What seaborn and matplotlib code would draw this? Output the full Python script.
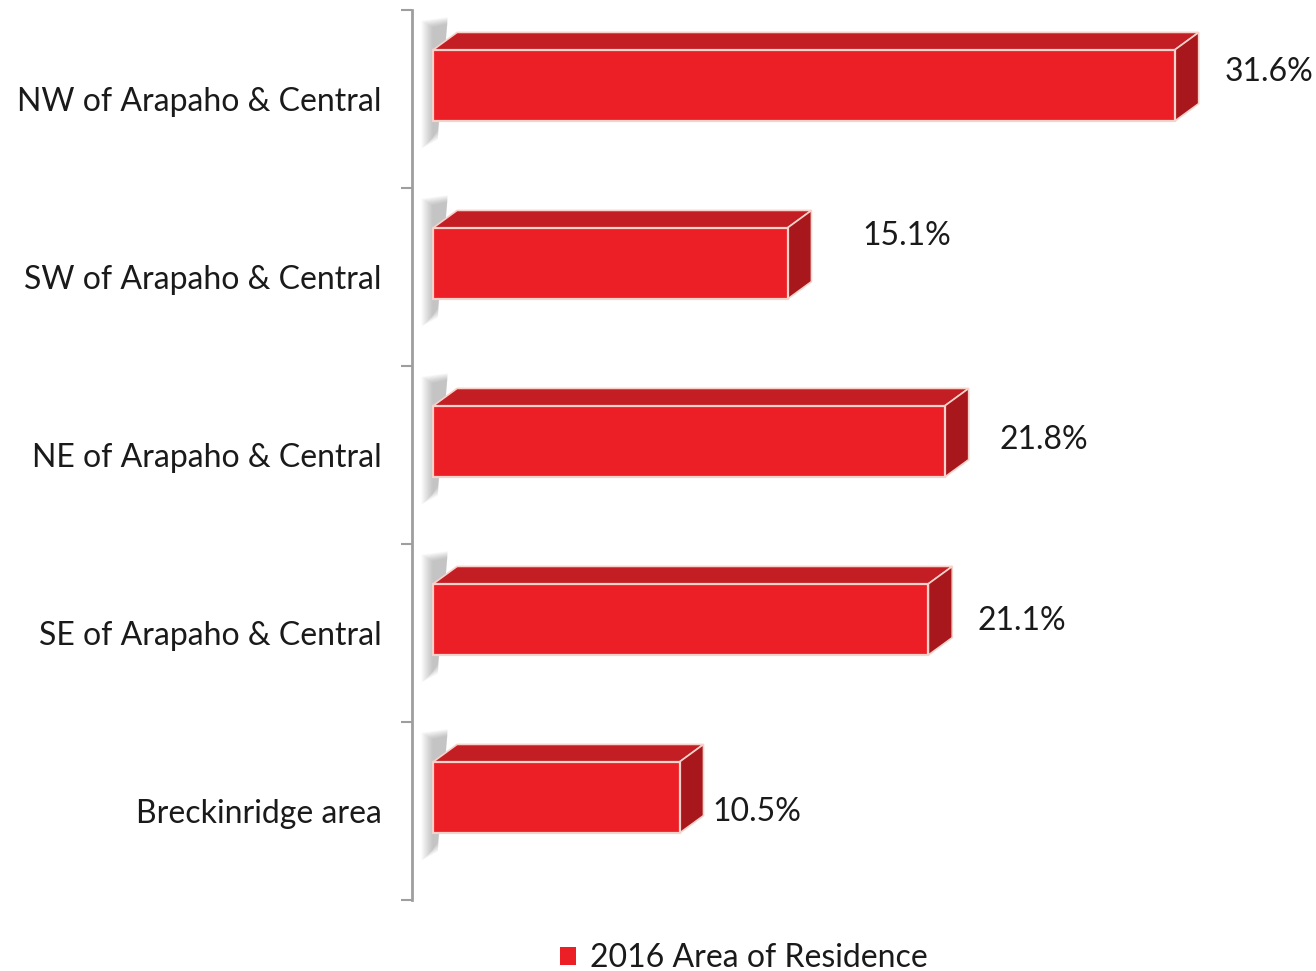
import matplotlib

matplotlib.use("Agg")
import matplotlib.pyplot as plt
import numpy as np
import seaborn as sns
from matplotlib.patches import Patch, Polygon

# Data
CATEGORIES = [
    "NW of Arapaho & Central",
    "SW of Arapaho & Central",
    "NE of Arapaho & Central",
    "SE of Arapaho & Central",
    "Breckinridge area",
]
VALUES = [31.6, 15.1, 21.8, 21.1, 10.5]
VALUE_LABELS = ["31.6%", "15.1%", "21.8%", "21.1%", "10.5%"]
SERIES_NAME = "2016 Area of Residence"

# Style settings
FRONT_COLOR = "#EC1F26"
TOP_COLOR = "#C21E24"
SIDE_COLOR = "#A8171C"
EDGE_COLOR = "#F7D2CB"
AXIS_COLOR = "#9E9E9E"
TEXT_COLOR = "#1A1A1A"
FONT_SIZE = 23
BAR_WIDTH = 0.40
BAR_SHIFT = -0.076  # front face sits slightly above the category centre
DEPTH_X = 1.02  # 3D depth in value units
DEPTH_Y = 0.098  # 3D depth in category units
# per-label nudges (x in value units, y in category units), as in the original layout
LABEL_NUDGE_X = [2.13, 3.17, 2.35, 2.11, 1.42]
LABEL_NUDGE_Y = [-0.15, -0.23, -0.085, -0.067, 0.005]

sns.set_theme(style="white")
plt.rcParams["font.family"] = ["Lato", "DejaVu Sans"]

fig = plt.figure(figsize=(13.16, 9.71), dpi=100)
ax = fig.add_axes([412 / 1316, 71 / 971, 866 / 1316, 890 / 971])

sns.barplot(
    x=VALUES,
    y=CATEGORIES,
    orient="h",
    width=BAR_WIDTH,
    color=FRONT_COLOR,
    saturation=1,
    linewidth=1.6,
    edgecolor=EDGE_COLOR,
    ax=ax,
    zorder=3,
)

for i, patch in enumerate(ax.patches[: len(VALUES)]):
    patch.set_y(patch.get_y() + BAR_SHIFT)
    v = patch.get_width()
    yt = patch.get_y()
    yb = yt + patch.get_height()

    # soft blurred shadow on the left end
    for k in range(10):
        off = 0.04 + 0.05 * k
        shadow = Polygon(
            [
                (-off, yt - DEPTH_Y - 0.03 - 0.004 * k),
                (DEPTH_X * 0.6, yt - DEPTH_Y - 0.05 - 0.004 * k),
                (DEPTH_X * 0.2, yb + 0.05 + 0.006 * k),
                (-off, yb + 0.10 + 0.006 * k),
            ],
            closed=True,
            facecolor="#4a4a4a",
            edgecolor="none",
            alpha=0.035,
            zorder=1,
        )
        ax.add_patch(shadow)

    top = Polygon(
        [(0, yt), (v, yt), (v + DEPTH_X, yt - DEPTH_Y), (DEPTH_X, yt - DEPTH_Y)],
        closed=True,
        facecolor=TOP_COLOR,
        edgecolor=EDGE_COLOR,
        linewidth=1.2,
        zorder=2,
    )
    side = Polygon(
        [(v, yt), (v + DEPTH_X, yt - DEPTH_Y), (v + DEPTH_X, yb - DEPTH_Y), (v, yb)],
        closed=True,
        facecolor=SIDE_COLOR,
        edgecolor=EDGE_COLOR,
        linewidth=1.2,
        zorder=2,
    )
    ax.add_patch(top)
    ax.add_patch(side)

    ax.text(
        v + LABEL_NUDGE_X[i],
        i + LABEL_NUDGE_Y[i],
        VALUE_LABELS[i],
        ha="left",
        va="center",
        fontsize=FONT_SIZE,
        color=TEXT_COLOR,
        zorder=5,
    )

ax.set_xlim(-0.9, 36.0)
ax.set_ylim(len(CATEGORIES) - 0.5, -0.5)
ax.set_xlabel("")
ax.set_ylabel("")
ax.set_xticks([])

ax.set_yticks(np.arange(len(CATEGORIES)))
ax.set_yticklabels(CATEGORIES, fontsize=FONT_SIZE, color=TEXT_COLOR)
ax.set_yticks(np.arange(len(CATEGORIES) + 1) - 0.5, minor=True)
ax.tick_params(axis="y", which="major", length=0, pad=22)
ax.tick_params(axis="y", which="minor", length=8, width=1.5, color=AXIS_COLOR, left=True)

for side_name in ["top", "right", "bottom"]:
    ax.spines[side_name].set_visible(False)
ax.spines["left"].set_color(AXIS_COLOR)
ax.spines["left"].set_linewidth(2)

fig.legend(
    handles=[Patch(facecolor=FRONT_COLOR, edgecolor="none", label=SERIES_NAME)],
    loc="center",
    bbox_to_anchor=(744 / 1316, 1 - 958 / 971),
    frameon=False,
    fontsize=FONT_SIZE,
    handlelength=0.5,
    handleheight=0.5,
    handletextpad=0.45,
    labelcolor=TEXT_COLOR,
)

fig.savefig("out.png", dpi=100)
